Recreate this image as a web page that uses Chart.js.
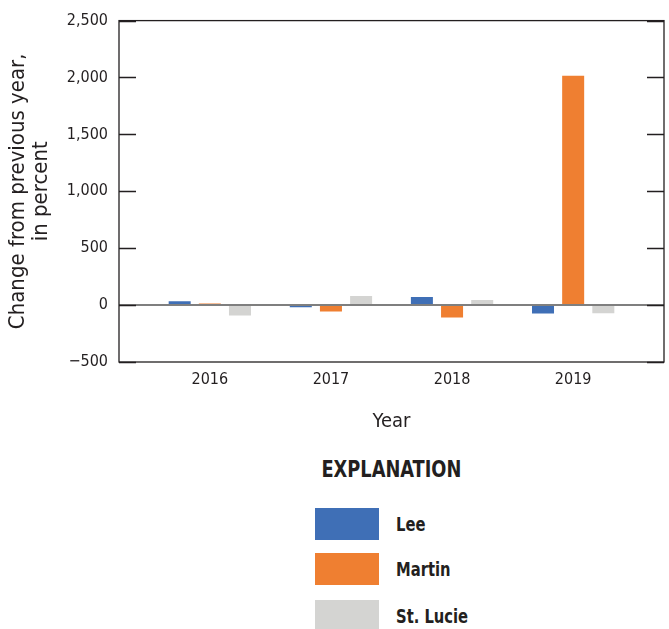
<!DOCTYPE html>
<html>
<head>
<meta charset="utf-8">
<script src="https://cdn.jsdelivr.net/npm/chart.js@4/dist/chart.umd.min.js"></script>
<style>
  html, body { margin: 0; padding: 0; background: #ffffff; }
  #wrap { position: relative; width: 669px; height: 629px; overflow: hidden; }
  #chart { position: absolute; left: 0; top: 0; }
  .lg-title { position: absolute; left: 0; width: 783px; top: 456px; text-align: center;
    font: bold 23px "DejaVu Sans Condensed", sans-serif; color: #231f20; }
  .lg-title span { display: inline-block; transform: scaleX(0.86); transform-origin: center; }
  .lg-item { position: absolute; left: 315px; height: 32px; display: flex; align-items: center; }
  .lg-box { width: 64px; height: 32px; flex: none; }
  .lg-text { margin-left: 17px; font: bold 20px "DejaVu Sans Condensed", sans-serif; color: #231f20;
    display: inline-block; transform: scaleX(0.82); transform-origin: left center; white-space: nowrap; }
</style>
</head>
<body>
<div id="wrap">
  <canvas id="chart" width="669" height="445"></canvas>
</div>
<script>
// Year-over-year change, in percent, by county
const years = [2016, 2017, 2018, 2019];
const seriesNames = ['Lee', 'Martin', 'St. Lucie'];
const leeChange = [34, -18, 72, -73];
const martinChange = [15, -56, -110, 2015];
const stLucieChange = [-92, 80, 44, -72];
const seriesColors = ['#3f6fb6', '#ef7f31', '#d4d4d2'];
const yTickValues = [-500, 0, 500, 1000, 1500, 2000, 2500];

const seriesValues = [leeChange, martinChange, stLucieChange];
const FONT = '"DejaVu Sans Condensed", sans-serif';
const INK = '#231f20';

function fmtTick(v) {
  const s = Math.abs(v).toLocaleString('en-US');
  return v < 0 ? '\u2212' + s : s;
}

// Box frame, inward tick marks and the zero reference line
const framePlugin = {
  id: 'frame',
  afterDatasetsDraw(chart) {
    const { ctx, chartArea: a, scales: { y } } = chart;
    ctx.save();
    const zy = y.getPixelForValue(0);
    ctx.strokeStyle = '#7f7f7f';
    ctx.lineWidth = 2;
    ctx.beginPath();
    ctx.moveTo(a.left, zy);
    ctx.lineTo(a.right, zy);
    ctx.stroke();

    ctx.strokeStyle = INK;
    ctx.lineWidth = 1.3;
    ctx.strokeRect(a.left, a.top, a.right - a.left, a.bottom - a.top);
    const len = 17;
    ctx.beginPath();
    yTickValues.forEach(v => {
      const py = Math.round(y.getPixelForValue(v)) + 0.5;
      ctx.moveTo(a.left, py); ctx.lineTo(a.left + len, py);
      ctx.moveTo(a.right, py); ctx.lineTo(a.right - len, py);
    });
    ctx.stroke();
    ctx.restore();
  }
};

const datasets = seriesNames.map((name, i) => ({
  label: name,
  data: years.map((yr, j) => ({ x: yr, y: seriesValues[i][j] })),
  backgroundColor: seriesColors[i],
  borderWidth: 0,
  categoryPercentage: 0.747,
  barPercentage: 0.73
}));

new Chart(document.getElementById('chart'), {
  type: 'bar',
  data: { datasets },
  options: {
    responsive: false,
    animation: false,
    devicePixelRatio: 1,
    layout: { padding: { top: 17, right: 5, left: 0, bottom: 0 } },
    plugins: { legend: { display: false }, tooltip: { enabled: false } },
    scales: {
      x: {
        type: 'linear',
        offset: false,
        min: years[0] - 0.75,
        max: years[years.length - 1] + 0.75,
        afterBuildTicks: s => { s.ticks = years.map(v => ({ value: v })); },
        afterFit: s => { s.height = 445 - 362; },
        grid: { display: false, drawTicks: false },
        border: { display: false },
        ticks: {
          padding: 8,
          color: INK,
          font: { family: FONT, size: 16 },
          callback: v => String(v),
          maxRotation: 0,
          autoSkip: false
        },
        title: {
          display: true,
          text: 'Year',
          color: INK,
          font: { family: FONT, size: 20 },
          padding: { top: 0, bottom: 11 }
        }
      },
      y: {
        min: -500,
        max: 2500,
        afterBuildTicks: s => { s.ticks = yTickValues.map(v => ({ value: v })); },
        afterFit: s => { s.width = 119; },
        grid: { display: false, drawTicks: false },
        border: { display: false },
        ticks: {
          padding: 11,
          color: INK,
          font: { family: FONT, size: 16 },
          callback: v => fmtTick(v)
        },
        title: {
          display: true,
          text: ['Change from previous year,', 'in percent'],
          color: INK,
          font: { family: FONT, size: 22, lineHeight: 1.05 },
          padding: { top: 7, bottom: 0 }
        }
      }
    }
  },
  plugins: [framePlugin]
});

// Explanation block built from the series names and colours
const wrap = document.getElementById('wrap');
const head = document.createElement('div');
head.className = 'lg-title';
const headText = document.createElement('span');
headText.textContent = 'EXPLANATION';
head.appendChild(headText);
wrap.appendChild(head);
const itemTops = [508, 553, 600];
seriesNames.forEach((name, i) => {
  const item = document.createElement('div');
  item.className = 'lg-item';
  item.style.top = itemTops[i] + 'px';
  const box = document.createElement('div');
  box.className = 'lg-box';
  box.style.background = seriesColors[i];
  const txt = document.createElement('span');
  txt.className = 'lg-text';
  txt.textContent = name;
  item.appendChild(box);
  item.appendChild(txt);
  wrap.appendChild(item);
});
</script>
</body>
</html>
